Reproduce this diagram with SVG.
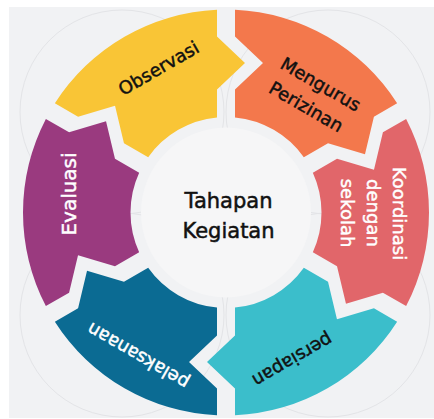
<svg xmlns="http://www.w3.org/2000/svg" width="434" height="419" viewBox="0 0 434 419">
<style>
.lbl{font-family:"DejaVu Sans","Liberation Sans",sans-serif;font-size:18px;text-anchor:middle;stroke-width:0.45px}
.dk{fill:#111;stroke:#111}
.wt{fill:#fff;stroke:#fff}
.ctr{font-family:"DejaVu Sans","Liberation Sans",sans-serif;font-size:21px;text-anchor:middle;fill:#111;stroke:#111;stroke-width:0.5px}
.ring{fill:none;stroke:#e3e4e7;stroke-width:1}
</style>
<defs>
<path id="seg" d="M 9 -202.8 A 203 203 0 0 1 171.13 -109.19 L 147.92 -95.79 L 138.97 -58.30 L 102.02 -69.29 L 77.83 -55.33 A 95.5 95.5 0 0 0 9 -95.07 L 9 -123 L 37 -149.5 L 9 -176 Z"/>
</defs>
<rect x="9" y="7" width="425" height="411" fill="#f1f2f4"/>
<g id="decor">
<circle class="ring" cx="122" cy="112" r="102"/>
<circle class="ring" cx="328" cy="112" r="102"/>
<circle class="ring" cx="122" cy="315" r="102"/>
<circle class="ring" cx="328" cy="315" r="102"/>
</g>
<g id="center">
<circle cx="226" cy="212.5" r="85" fill="#f6f6f7"/>
<text class="ctr" x="228.5" y="208">Tahapan</text>
<text class="ctr" x="228.5" y="238">Kegiatan</text>
</g>
<g id="observasi">
<use href="#seg" fill="#f9c536" transform="translate(226 212.5) rotate(-60)"/>
<text class="lbl dk" transform="translate(161.7 73.7) rotate(-30)">Observasi</text>
</g>
<g id="mengurus">
<use href="#seg" fill="#f3784c" transform="translate(226 212.5)"/>
<text class="lbl dk" transform="translate(317.5 89.7) rotate(30)">Mengurus</text>
<text class="lbl dk" transform="translate(303 112.2) rotate(30)">Perizinan</text>
</g>
<g id="koordinasi">
<use href="#seg" fill="#e1666a" transform="translate(226 212.5) rotate(60)"/>
<text class="lbl wt" transform="translate(393 213.5) rotate(90)">Koordinasi</text>
<text class="lbl wt" transform="translate(367 213) rotate(90)">dengan</text>
<text class="lbl wt" transform="translate(341 213) rotate(90)">sekolah</text>
</g>
<g id="persiapan">
<use href="#seg" fill="#3bbecb" transform="translate(226 212.5) rotate(120)"/>
<text class="lbl dk" transform="translate(289.5 354.7) rotate(150)">persiapan</text>
</g>
<g id="pelaksanaan">
<use href="#seg" fill="#0b6b93" transform="translate(226 212.5) rotate(180)"/>
<text class="lbl wt" transform="translate(141 350.7) rotate(210)">pelaksanaan</text>
</g>
<g id="evaluasi">
<use href="#seg" fill="#9a3a7f" transform="translate(226 212.5) rotate(240)"/>
<text class="lbl wt" style="font-size:20px" transform="translate(76 194) rotate(-90)">Evaluasi</text>
</g>
<g id="connectors"></g>
</svg>
